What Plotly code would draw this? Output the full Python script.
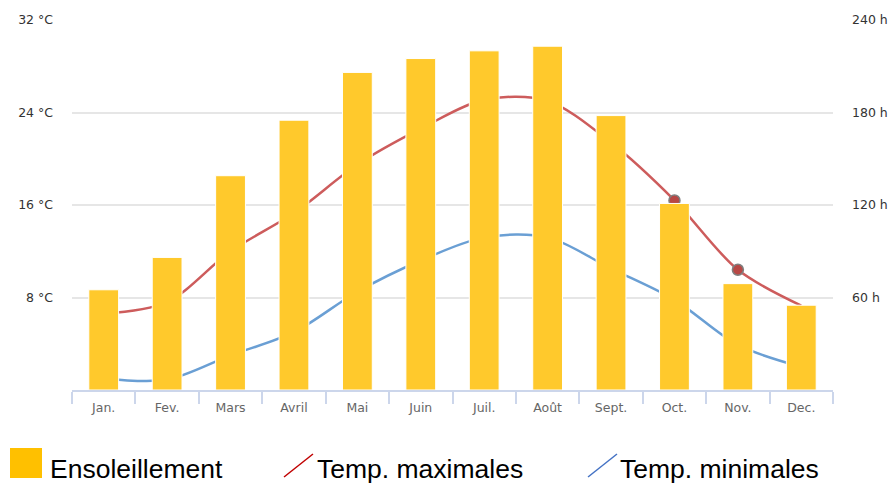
import plotly.graph_objects as go

months = ["Jan.", "Fev.", "Mars", "Avril", "Mai", "Juin", "Juil.", "Août", "Sept.", "Oct.", "Nov.", "Dec."]
sunshine = [65, 86, 139, 175, 206, 215, 220, 223, 178, 121, 69, 55]
temp_max = [6.6, 7.6, 12.0, 15.3, 19.5, 22.6, 25.1, 25.0, 21.4, 16.4, 10.4, 7.3]
temp_min = [1.0, 0.9, 3.0, 5.0, 8.5, 11.2, 13.2, 13.2, 10.5, 7.8, 3.9, 2.0]
max_marker_sizes = [0, 0, 0, 0, 0, 0, 0, 0, 0, 11, 11, 0]

temp_ticks = [8, 16, 24, 32]
temp_tick_labels = ["8 °C", "16 °C", "24 °C", "32 °C"]
sun_ticks = [60, 120, 180, 240]
sun_tick_labels = ["60 h", "120 h", "180 h", "240 h"]

fig = go.Figure()

fig.add_trace(go.Scatter(
    x=months, y=temp_max, mode="lines+markers", name="Temp. maximales",
    line=dict(color="#cd5c5c", width=2.5, shape="spline", smoothing=0.9),
    marker=dict(size=max_marker_sizes, color="#b84845", opacity=1,
                line=dict(color="#7f7f7f", width=1.5)),
    yaxis="y", showlegend=False, hoverinfo="skip"))
fig.add_trace(go.Scatter(
    x=months, y=temp_min, mode="lines", name="Temp. minimales",
    line=dict(color="#6a9fd4", width=2.5, shape="spline", smoothing=0.9),
    yaxis="y", showlegend=False))
fig.add_trace(go.Bar(
    x=months, y=sunshine, name="Ensoleillement",
    marker=dict(color="#ffc92c", line=dict(color="#ffffff", width=1)),
    yaxis="y2", showlegend=False))

tick_font = dict(family="DejaVu Sans", size=12.5, color="#333333")

fig.update_layout(
    width=896, height=484,
    margin=dict(l=72, r=63, t=20, b=94, autoexpand=False),
    plot_bgcolor="white", paper_bgcolor="white",
    bargap=0.53,
    xaxis=dict(
        range=[-0.5, len(months) - 0.5],
        showline=True, linecolor="#ccd6eb", linewidth=1.5,
        ticks="outside", tickson="boundaries", ticklen=12, tickcolor="#ccd6eb", tickwidth=1.5,
        tickfont=dict(family="DejaVu Sans", size=12.5, color="#666666"),
        ticklabelstandoff=5,
        showgrid=False, fixedrange=True),
    yaxis=dict(
        range=[0, 32], tickmode="array", tickvals=temp_ticks, ticktext=temp_tick_labels,
        showgrid=True, gridcolor="#e6e6e6", gridwidth=1.5,
        zeroline=False, tickfont=tick_font, ticks="", ticklabelstandoff=18,
        side="left"),
    yaxis2=dict(
        range=[0, 240], tickmode="array", tickvals=sun_ticks, ticktext=sun_tick_labels,
        overlaying="y", side="right", showgrid=False, zeroline=False,
        tickfont=tick_font, ticks="", ticklabelstandoff=18),
)

# manual legend
fig.add_shape(type="rect", xref="paper", yref="paper",
              x0=(10 - 72) / 761, x1=(42 - 72) / 761,
              y0=(390 - 478) / 370, y1=(390 - 448) / 370,
              fillcolor="#ffc000", line=dict(width=0))
fig.add_shape(type="line", xref="paper", yref="paper",
              x0=(284 - 72) / 761, x1=(313 - 72) / 761,
              y0=(390 - 477) / 370, y1=(390 - 454) / 370,
              line=dict(color="#c00000", width=1.5))
fig.add_shape(type="line", xref="paper", yref="paper",
              x0=(588 - 72) / 761, x1=(617 - 72) / 761,
              y0=(390 - 477) / 370, y1=(390 - 454) / 370,
              line=dict(color="#4472c4", width=1.5))

legend_font = dict(family="Liberation Sans", size=26.5, color="#000000")
for label, xpx in [("Ensoleillement", 48), ("Temp. maximales", 315), ("Temp. minimales", 618)]:
    fig.add_annotation(text=label, xref="paper", yref="paper",
                       x=(xpx - 72) / 761, y=(390 - 469) / 370,
                       xanchor="left", yanchor="middle", showarrow=False,
                       font=legend_font)

fig.write_html("out.html", config={"displayModeBar": False},
               post_script="document.body.style.margin='0';")
